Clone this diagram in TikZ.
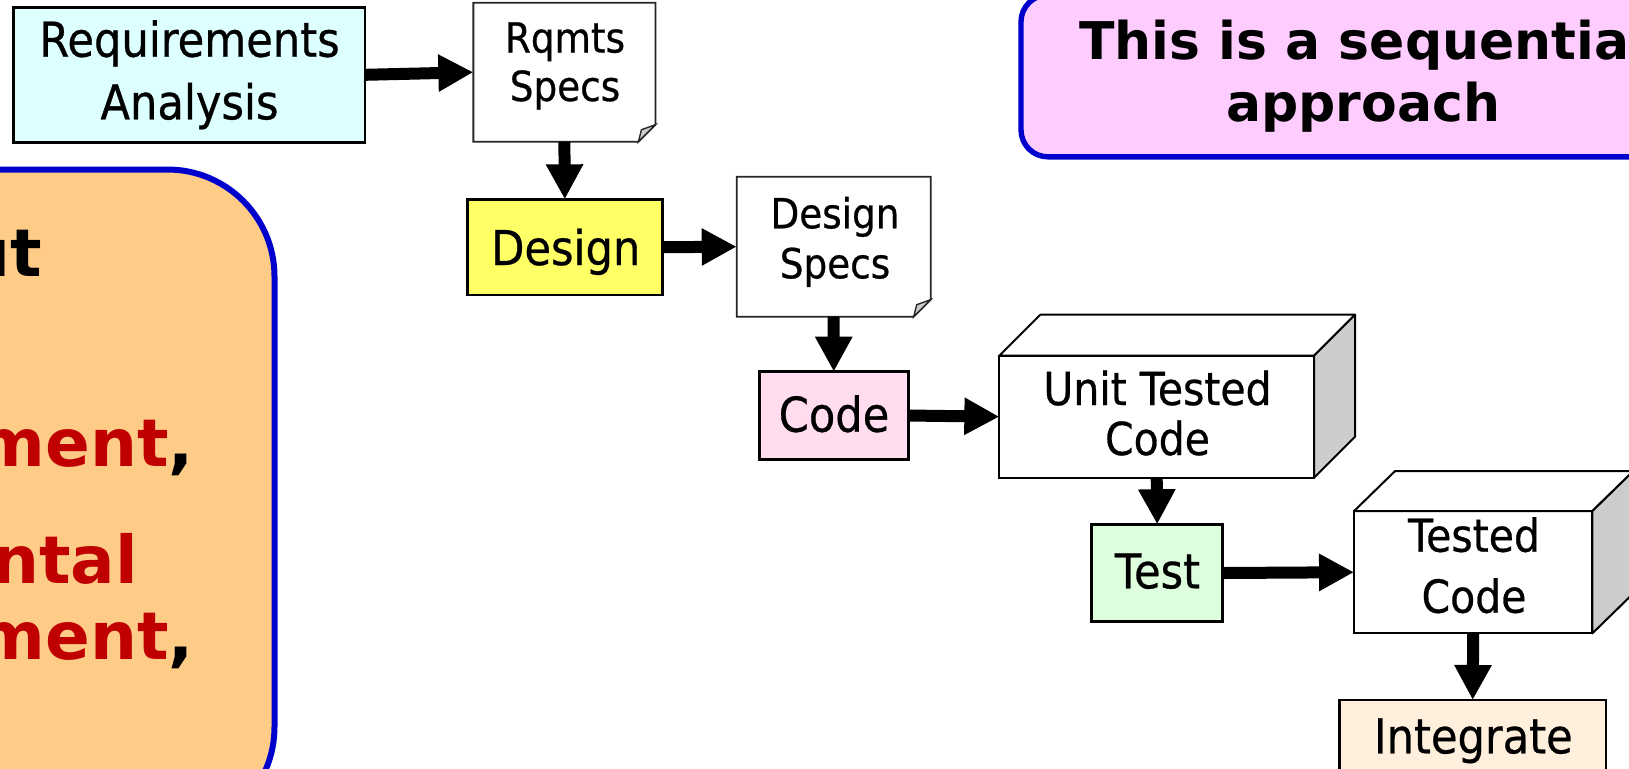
\documentclass[tikz,border=0pt]{standalone}
\usepackage{fontspec}
\setmainfont{DejaVu Sans}
\newfontfamily\lblfont{DejaVu Sans}[FakeStretch=0.9,FakeBold=0.6]
\usetikzlibrary{arrows.meta,calc}
\definecolor{reqfill}{HTML}{DDFFFF}
\definecolor{designfill}{HTML}{FFFF66}
\definecolor{codefill}{HTML}{FFDDEE}
\definecolor{testfill}{HTML}{DDFFDD}
\definecolor{integfill}{HTML}{FFF0DD}
\definecolor{sidegray}{HTML}{CCCCCC}
\definecolor{pinkfill}{HTML}{FFCCFF}
\definecolor{orangefill}{HTML}{FFCC88}
\definecolor{calloutblue}{HTML}{0000CC}
\definecolor{darkred}{HTML}{C00000}
\begin{document}
\begin{tikzpicture}[x=0.5pt,y=-0.5pt,
  every node/.style={inner sep=0pt, outer sep=0pt},
  procbox/.style={draw=black, line width=1.3pt, rectangle},
  docbox/.style={rectangle},
  docline/.style={draw=black!85, line width=0.9pt, fill=white},
  foldline/.style={draw=black!85, line width=0.7pt, fill=sidegray},
  cubefront/.style={draw=black, line width=1pt, fill=white, rectangle},
  cubeline/.style={draw=black, line width=1pt, line join=round},
  lbl/.style={font=\lblfont\fontsize{24}{28}\selectfont, anchor=base},
  doclbl/.style={font=\lblfont\fontsize{20.75}{25}\selectfont, anchor=base},
  cubelbl/.style={font=\lblfont\fontsize{22.75}{27}\selectfont, anchor=base},
  arr/.style={line width=6pt, -{Triangle[length=17.5pt,width=17.5pt]}},
  callout/.style={draw=calloutblue, line width=2.7pt, rectangle},
  lefttxt/.style={font=\bfseries\fontsize{33}{40}\selectfont, anchor=base east},
  pinktxt/.style={font=\bfseries\fontsize{26}{31}\selectfont, anchor=base},
]
\useasboundingbox (0,0) rectangle (1629,768);
\clip (0,0) rectangle (1629,768);

% callouts
\node[callout, line width=3pt, rounded corners=53.5pt, fill=orangefill, minimum width=337.25pt, minimum height=332.25pt] (left) at (-62.75,501.75) {};
\node[lefttxt] (l1) at (42,276) {ut};
\node[lefttxt, text=darkred] (l2) at (194,466.7) {ment\textcolor{black}{,}};
\node[lefttxt, text=darkred] (l3) at (138,583.3) {ntal};
\node[lefttxt, text=darkred] (l4) at (194,659) {ment\textcolor{black}{,}};

\node[callout, rounded corners=13.5pt, fill=pinkfill, minimum width=343pt, minimum height=81pt] (pink) at (1364,75.85) {};
\node[pinktxt] (p1) at (1363.3,59.3) {This is a sequential};
\node[pinktxt] (p2) at (1363.3,121.7) {approach};

% Requirements analysis
\node[procbox, fill=reqfill, minimum width=175.85pt, minimum height=67.5pt] (req) at (189.2,74.8) {};
\node[lbl] (reqa) at (189.5,56.7) {Requirements};
\node[lbl] (reqb) at (189.5,119.3) {Analysis};

% Rqmts specs (document)
\node[docbox, minimum width=91.05pt, minimum height=69.5pt] (rq) at (564.4,72.2) {};
\path[docline] (rq.north west) -- (rq.north east) -- ([yshift=8.5pt]rq.south east) -- ([xshift=-8.5pt]rq.south east) -- (rq.south west) -- cycle;
\path[foldline] ([yshift=8.5pt]rq.south east) -- ([xshift=-8.5pt]rq.south east) -- ([xshift=-7pt,yshift=6pt]rq.south east) -- cycle;
\node[doclbl] (rqa) at (565,52.5) {Rqmts};
\node[doclbl] (rqb) at (565,101) {Specs};

% Design
\node[procbox, fill=designfill, minimum width=97.5pt, minimum height=47.85pt] (design) at (564.8,247.2) {};
\node[lbl] (designa) at (565.8,265) {Design};

% Design specs (document)
\node[docbox, minimum width=97pt, minimum height=70pt] (ds) at (833.7,246.7) {};
\path[docline] (ds.north west) -- (ds.north east) -- ([yshift=8.5pt]ds.south east) -- ([xshift=-8.5pt]ds.south east) -- (ds.south west) -- cycle;
\path[foldline] ([yshift=8.5pt]ds.south east) -- ([xshift=-8.5pt]ds.south east) -- ([xshift=-7pt,yshift=6pt]ds.south east) -- cycle;
\node[doclbl] (dsa) at (835,228.3) {Design};
\node[doclbl] (dsb) at (835,278.3) {Specs};

% Code
\node[procbox, fill=codefill, minimum width=74.5pt, minimum height=43.8pt] (code) at (833.8,415.5) {};
\node[lbl] (codea) at (834,431.7) {Code};

% Unit tested code (cube)
\node[cubefront, minimum width=157.35pt, minimum height=61pt] (uc) at (1156.7,416.7) {};
\path[cubeline, fill=white] (uc.north west) -- ([shift={(20.5pt,20.5pt)}]uc.north west) -- ([shift={(20.5pt,20.5pt)}]uc.north east) -- (uc.north east) -- cycle;
\path[cubeline, fill=sidegray] (uc.north east) -- ([shift={(20.5pt,20.5pt)}]uc.north east) -- ([shift={(20.5pt,20.5pt)}]uc.south east) -- (uc.south east) -- cycle;
\node[cubelbl] (uca) at (1157.5,405) {Unit Tested};
\node[cubelbl] (ucb) at (1157.5,455) {Code};

% Test
\node[procbox, fill=testfill, minimum width=65.5pt, minimum height=48.7pt] (test) at (1157.2,573) {};
\node[lbl] (testa) at (1157.5,588.3) {Test};

% Tested code (cube)
\node[cubefront, minimum width=119.15pt, minimum height=61.15pt] (tc) at (1473.2,572.2) {};
\path[cubeline, fill=white] (tc.north west) -- ([shift={(20.5pt,20pt)}]tc.north west) -- ([shift={(20.5pt,20pt)}]tc.north east) -- (tc.north east) -- cycle;
\path[cubeline, fill=sidegray] (tc.north east) -- ([shift={(20.5pt,20pt)}]tc.north east) -- ([shift={(20.5pt,20pt)}]tc.south east) -- (tc.south east) -- cycle;
\node[cubelbl] (tca) at (1474,551.7) {Tested};
\node[cubelbl] (tcb) at (1474,612.7) {Code};

% Integrate
\node[procbox, fill=integfill, minimum width=133.35pt, minimum height=45pt] (integ) at (1472.7,745) {};
\node[lbl] (intega) at (1473.3,753.3) {Integrate};

% connectors
\draw[arr] (req.east) -- (rq.west);
\draw[arr] (rq.south) -- (design.north);
\draw[arr] (design.east) -- (ds.west);
\draw[arr] (ds.south) -- (code.north);
\draw[arr] (code.east) -- (uc.west);
\draw[arr] (uc.south) -- (test.north);
\draw[arr] (test.east) -- (tc.west);
\draw[arr] (tc.south) -- (integ.north);
\end{tikzpicture}
\end{document}
